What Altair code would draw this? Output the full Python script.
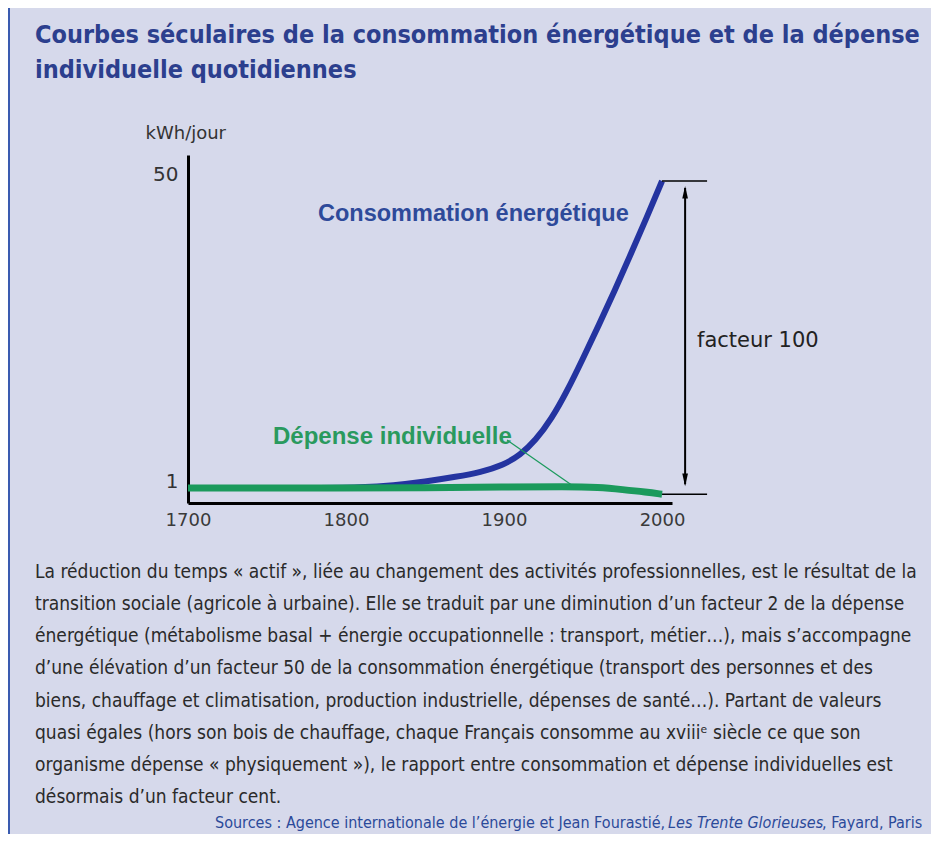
import altair as alt
import pandas as pd

# ---- data ----
blue_years = [1700, 1780, 1810, 1830, 1850, 1870, 1885, 1900, 1910, 1920, 1930, 1940, 1950, 1960, 1970, 1980, 1990, 2000]
blue_vals = [1.0, 1.0, 1.1, 1.4, 2.0, 2.8, 3.5, 4.7, 6.2, 8.6, 12.0, 16.5, 21.7, 27.0, 32.5, 38.2, 44.0, 50.0]
green_years = [1700, 1800, 1850, 1900, 1940, 1960, 1975, 1990, 2000]
green_vals = [1.0, 1.0, 1.05, 1.15, 1.25, 1.1, 0.75, 0.35, 0.0]
x_ticks = [1700, 1800, 1900, 2000]
y_ticks = [1, 50]

title_lines = ["Courbes séculaires de la consommation énergétique et de la dépense",
               "individuelle quotidiennes"]
body_lines = [
    "La réduction du temps « actif », liée au changement des activités professionnelles, est le résultat de la",
    "transition sociale (agricole à urbaine). Elle se traduit par une diminution d’un facteur 2 de la dépense",
    "énergétique (métabolisme basal + énergie occupationnelle : transport, métier…), mais s’accompagne",
    "d’une élévation d’un facteur 50 de la consommation énergétique (transport des personnes et des",
    "biens, chauffage et climatisation, production industrielle, dépenses de santé…). Partant de valeurs",
    "quasi égales (hors son bois de chauffage, chaque Français consomme au xviiiᵉ siècle ce que son",
    "organisme dépense « physiquement »), le rapport entre consommation et dépense individuelles est",
    "désormais d’un facteur cent.",
]
source_parts = ["Sources : Agence internationale de l’énergie et Jean Fourastié,",
                "Les Trente Glorieuses", ", Fayard, Paris"]

BG = "#d6d9eb"
BLUE = "#2434a0"
GREEN = "#1b9a5c"
TITLE_BLUE = "#2c3f8e"
NARROW = "DejaVu Sans Condensed, Liberation Sans, sans-serif"
SANS = "Liberation Sans, Arial, sans-serif"
WIDE = "DejaVu Sans, Verdana, sans-serif"

xs = alt.Scale(domain=[1700, 2006.3], nice=False, zero=False)
ys = alt.Scale(domain=[-1.394, 54.15], nice=False, zero=False)

blue_df = pd.DataFrame({"year": blue_years, "v": blue_vals})
green_df = pd.DataFrame({"year": green_years, "v": green_vals})

X = alt.X("year:Q", scale=xs, axis=alt.Axis(values=x_ticks, format="d", title=None, labelFontSize=18,
                                            labelFont=WIDE, labelColor="#3a3a3a", labelPadding=8,
                                            labelFlush=False, ticks=False, grid=False,
                                            domainColor="black", domainWidth=3))
Y = alt.Y("v:Q", scale=ys, axis=alt.Axis(values=y_ticks, title="kWh/jour", titleAngle=0, titleX=-43, titleY=-22,
                                         titleAlign="left", titleBaseline="middle", titleFontSize=18,
                                         titleFont=WIDE, titleFontWeight="normal", titleColor="#333333",
                                         labelFontSize=20, labelFont=WIDE, labelColor="#333333", labelPadding=10,
                                         labelOffset=-7, labelFlush=False, ticks=False, grid=False,
                                         domainColor="black", domainWidth=3))

blue_line = alt.Chart(blue_df).mark_line(color=BLUE, strokeWidth=6, interpolate="basis", strokeCap="butt").encode(x=X, y=Y)
green_line = alt.Chart(green_df).mark_line(color=GREEN, strokeWidth=7, interpolate="basis", strokeCap="butt").encode(
    x=alt.X("year:Q", scale=xs), y=alt.Y("v:Q", scale=ys))

# leader line from the green label to the curve
leader_df = pd.DataFrame({"x": [1901.9], "y": [8.66], "x2": [1943.7], "y2": [1.32]})
leader = alt.Chart(leader_df).mark_rule(color=GREEN, strokeWidth=1.2).encode(
    x=alt.X("x:Q", scale=xs), y=alt.Y("y:Q", scale=ys), x2="x2:Q", y2="y2:Q")

# "facteur 100" bracket
bracket_df = pd.DataFrame({"x": [2000, 2000], "x2": [2028.5, 2028.5], "y": [50.0, 0.0]})
bracket = alt.Chart(bracket_df).mark_rule(color="black", strokeWidth=1.5).encode(
    x=alt.X("x:Q", scale=xs), x2="x2:Q", y=alt.Y("y:Q", scale=ys))
arrow_df = pd.DataFrame({"x": [2014.6], "y": [48.9], "y2": [1.6]})
arrow = alt.Chart(arrow_df).mark_rule(color="black", strokeWidth=2).encode(
    x=alt.X("x:Q", scale=xs), y=alt.Y("y:Q", scale=ys), y2="y2:Q")
heads_df = pd.DataFrame({"x": [2014.6, 2014.6], "y": [48.2, 2.3], "dir": ["up", "down"]})
head_up = alt.Chart(heads_df[heads_df.dir == "up"]).mark_point(
    shape="M0,-1L0.45,1L-0.45,1Z", filled=True, color="black", size=160, opacity=1).encode(
    x=alt.X("x:Q", scale=xs), y=alt.Y("y:Q", scale=ys))
head_down = alt.Chart(heads_df[heads_df.dir == "down"]).mark_point(
    shape="M0,1L0.45,-1L-0.45,-1Z", filled=True, color="black", size=160, opacity=1).encode(
    x=alt.X("x:Q", scale=xs), y=alt.Y("y:Q", scale=ys))

one = pd.DataFrame({"a": [0]})


def txt(text, x, y, size, color, weight="normal", font=NARROW, style="normal", align="left"):
    return alt.Chart(one).mark_text(text=text, align=align, baseline="middle", fontSize=size, color=color,
                                    fontWeight=weight, font=font, fontStyle=style).encode(
        x=alt.value(x), y=alt.value(y))


layers = [blue_line, green_line, leader, bracket, arrow, head_up, head_down]
layers.append(txt("Consommation énergétique", 130, 59, 23.5, "#2e4a9a", "bold", SANS))
layers.append(txt("Dépense individuelle", 85, 282, 24, "#2a9a5e", "bold", SANS))
layers.append(txt("facteur 100", 509, 186, 21, "#222222", "normal", WIDE))

# title
for i, t in enumerate(title_lines):
    layers.append(txt(t, -153, -120 + 35 * i, 25, TITLE_BLUE, "bold"))
# body
for i, t in enumerate(body_lines):
    layers.append(txt(t, -153, 417 + 32.15 * i, 19, "#2a2a2a"))
# sources
layers.append(txt(source_parts[0], 27, 668, 16, "#2b4a9a"))
layers.append(txt(source_parts[1], 480, 668, 16, "#2b4a9a", style="italic"))
layers.append(txt(source_parts[2], 634, 668, 16, "#2b4a9a"))

# left border
border = alt.Chart(one).mark_rule(color="#3a5bb0", strokeWidth=2).encode(
    x=alt.value(-179), y=alt.value(-147), y2=alt.value(690))
layers.append(border)

chart = alt.layer(*layers).properties(
    width=484, height=348,
    autosize=alt.AutoSizeParams(type="none"),
    padding={"left": 180, "top": 147, "right": 259, "bottom": 331},
    background=BG,
).configure_view(stroke=None)

chart.save("out.html", embed_options={"renderer": "svg", "actions": False})
